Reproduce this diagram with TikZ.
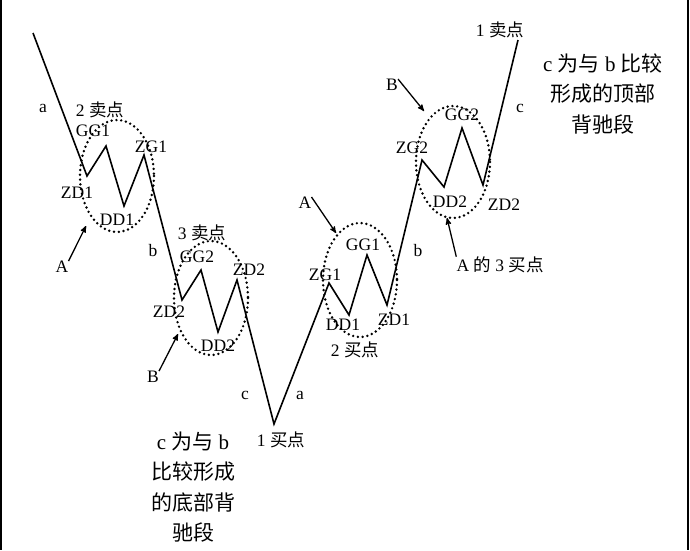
\documentclass[tikz,border=0pt]{standalone}
\usepackage{fontspec}
\setmainfont{Liberation Serif}
\newfontfamily\cjk{Noto Sans CJK SC}
\usetikzlibrary{arrows}
\tikzset{
	wave_lbl/.style = {
		inner sep=0pt,
		font=\fontsize{17.5}{19}\selectfont
	},
	note_txt/.style = {
		align=center,
		inner sep=0pt,
		font=\fontsize{21}{30.5}\selectfont
	},
	zone_ring/.style = {
		draw=black,
		line width=2.7pt,
		line cap=round,
		dash pattern=on 0pt off 4.8pt
	},
	pointer/.style = {
		->,
		>=stealth',
		line width=1.3pt
	},
	price/.style = {
		line width=1.6pt
	},
}

\begin{document}
\begin{tikzpicture}[x=1pt,y=-1pt]
\useasboundingbox (0,0) rectangle (690,550);
\draw[line width=2pt] (1,0) -- (1,550);
\draw[line width=2pt] (688,0) -- (688,550);

% turning points of the move
\coordinate (p0) at (33,33);
\coordinate (p1) at (87,176);
\coordinate (p2) at (106,146);
\coordinate (p3) at (124,206);
\coordinate (p4) at (144,155);
\coordinate (p5) at (182,300);
\coordinate (p6) at (201,270);
\coordinate (p7) at (218,332);
\coordinate (p8) at (237,280);
\coordinate (p9) at (274,424);
\coordinate (p10) at (329,283);
\coordinate (p11) at (349,315);
\coordinate (p12) at (367,255);
\coordinate (p13) at (387,305);
\coordinate (p14) at (422,160);
\coordinate (p15) at (444,187);
\coordinate (p16) at (462,128);
\coordinate (p17) at (483,185);
\coordinate (p18) at (518,40);
\draw[price] (p0) -- (p1) -- (p2) -- (p3) -- (p4) -- (p5) -- (p6) -- (p7) -- (p8) -- (p9)
	-- (p10) -- (p11) -- (p12) -- (p13) -- (p14) -- (p15) -- (p16) -- (p17) -- (p18);

% centres
\draw[zone_ring] (117,176) ellipse [x radius=37, y radius=56];
\draw[zone_ring] (211,298) ellipse [x radius=37, y radius=57];
\draw[zone_ring] (360,280) ellipse [x radius=37, y radius=57];
\draw[zone_ring] (453,162) ellipse [x radius=37, y radius=56];

% first centre
\node[wave_lbl] (seg_a1) at (43,108) {a};
\node[wave_lbl] (sell2) at (100,110) {2 {\cjk 卖点}};
\node[wave_lbl] (gg1_l) at (93,131) {GG1};
\node[wave_lbl] (zg1_l) at (151,147) {ZG1};
\node[wave_lbl] (zd1_l) at (77,193) {ZD1};
\node[wave_lbl] (dd1_l) at (117,220) {DD1};
\node[wave_lbl] (lbl_a1) at (62,267) {A};
\coordinate (tip_a1) at (86,226);
\draw[pointer] (lbl_a1.north east) -- (tip_a1);
\node[wave_lbl] (seg_b1) at (153,251) {b};

% second centre
\node[wave_lbl] (sell3) at (202,233) {3 {\cjk 卖点}};
\node[wave_lbl] (gg2_l) at (197,257) {GG2};
\node[wave_lbl] (zd2_h) at (249,270) {ZD2};
\node[wave_lbl] (zd2_l) at (169,312) {ZD2};
\node[wave_lbl] (dd2_l) at (218,346) {DD2};
\node[wave_lbl] (lbl_b1) at (153,377) {B};
\coordinate (tip_b1) at (178,334);
\draw[pointer] (lbl_b1.north east) -- (tip_b1);
\node[wave_lbl] (seg_c1) at (245,395) {c};
\node[wave_lbl] (seg_a2) at (300,395) {a};
\node[wave_lbl] (buy1) at (281,440) {1 {\cjk 买点}};
\node[note_txt] (note_low) at (193,487) {c {\cjk 为与} b\\{\cjk 比较形成}\\{\cjk 的底部背}\\{\cjk 驰段}};

% third centre
\node[wave_lbl] (lbl_a2) at (305,203) {A};
\coordinate (tip_a2) at (336,233);
\draw[pointer] (lbl_a2.north east) -- (tip_a2);
\node[wave_lbl] (gg1_r) at (363,245) {GG1};
\node[wave_lbl] (zg1_r) at (325,275) {ZG1};
\node[wave_lbl] (dd1_r) at (343,325) {DD1};
\node[wave_lbl] (zd1_r) at (394,320) {ZD1};
\node[wave_lbl] (buy2) at (355,350) {2 {\cjk 买点}};
\node[wave_lbl] (seg_b2) at (418,251) {b};

% fourth centre
\node[wave_lbl] (sell1) at (500,30) {1 {\cjk 卖点}};
\node[note_txt] (note_top) at (603,94) {c {\cjk 为与} b {\cjk 比较}\\{\cjk 形成的顶部}\\{\cjk 背驰段}};
\node[wave_lbl] (lbl_b2) at (392,85) {B};
\coordinate (tip_b2) at (424,111);
\draw[pointer] (lbl_b2.north east) -- (tip_b2);
\node[wave_lbl] (gg2_r) at (462,115) {GG2};
\node[wave_lbl] (zg2_r) at (412,148) {ZG2};
\node[wave_lbl] (seg_c2) at (520,108) {c};
\node[wave_lbl] (dd2_r) at (450,202) {DD2};
\node[wave_lbl] (zd2_r) at (504,205) {ZD2};
\node[wave_lbl] (buy3) at (500,265) {A {\cjk 的} 3 {\cjk 买点}};
\coordinate (tip_a3) at (447,218);
\draw[pointer] (buy3.north west) -- (tip_a3);
\end{tikzpicture}
\end{document}
